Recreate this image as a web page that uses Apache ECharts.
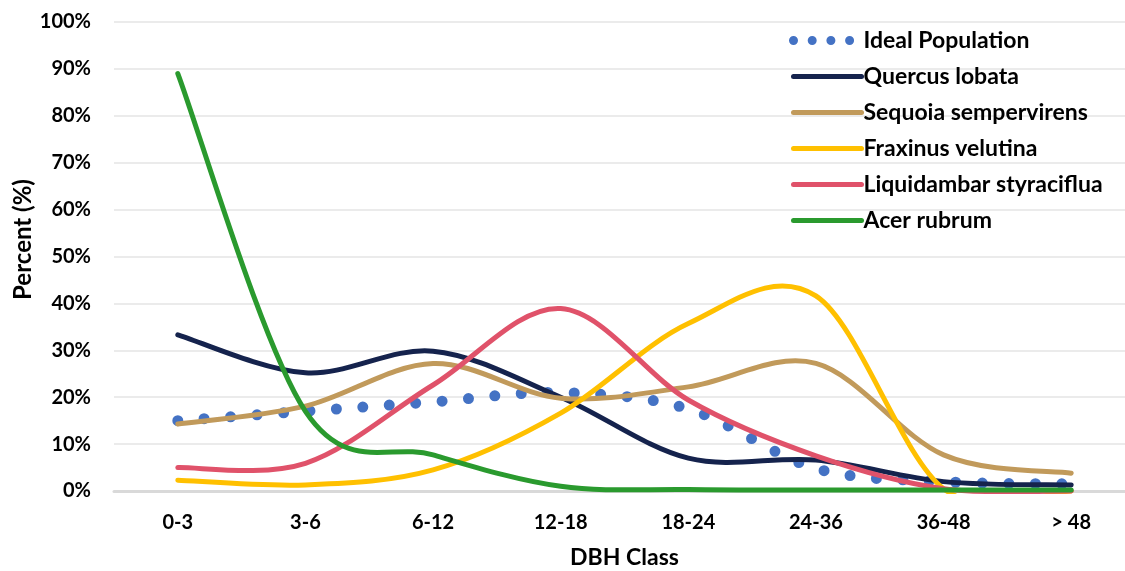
<!DOCTYPE html>
<html>
<head>
<meta charset="utf-8">
<script src="https://cdn.jsdelivr.net/npm/echarts@6/dist/echarts.min.js"></script>
<style>
  html, body { margin: 0; padding: 0; background: #ffffff; }
  #chart { width: 1125px; height: 571px; }
</style>
</head>
<body>
<div id="chart"></div>
<script>
// DBH size classes (inches) and share of stems per class, in percent
const dbhClasses = ['0-3', '3-6', '6-12', '12-18', '18-24', '24-36', '36-48', '> 48'];
const idealPopulation = [15, 17, 19, 21, 17.5, 4.8, 2, 1.5];
const quercusLobata = [33.3, 25.2, 29.8, 20, 7, 6.6, 2, 1.3];
const sequoiaSempervirens = [14.3, 18.1, 27.2, 19.8, 22.2, 27.2, 7.7, 3.8];
const fraxinusVelutina = [2.3, 1.3, 4.5, 16.6, 35.7, 41.6, 0.5, 0];
const liquidambarStyraciflua = [5, 5.9, 22.6, 38.9, 19.4, 7.5, 0.5, 0];
const acerRubrum = [89, 17, 7.7, 1, 0.3, 0.2, 0.2, 0.2];

const FONT = 'Lato';

const speciesList = [
  { name: 'Ideal Population', values: idealPopulation, color: '#4472C4', width: 11, dash: [0, 26.5] },
  { name: 'Quercus lobata', values: quercusLobata, color: '#15234D', width: 5 },
  { name: 'Sequoia sempervirens', values: sequoiaSempervirens, color: '#C19A5B', width: 5 },
  { name: 'Fraxinus velutina', values: fraxinusVelutina, color: '#FFC000', width: 5 },
  { name: 'Liquidambar styraciflua', values: liquidambarStyraciflua, color: '#E0526A', width: 5 },
  { name: 'Acer rubrum', values: acerRubrum, color: '#2A9A2E', width: 5 }
];

// Smoothed curve through pixel points (uniform Catmull-Rom as cubic Beziers)
function smoothPath(pts) {
  let d = 'M' + pts[0][0] + ' ' + pts[0][1];
  for (let k = 0; k < pts.length - 1; k++) {
    const p0 = pts[k - 1] || pts[k];
    const p1 = pts[k];
    const p2 = pts[k + 1];
    const p3 = pts[k + 2] || pts[k + 1];
    const c1x = p1[0] + (p2[0] - p0[0]) / 6;
    const c1y = p1[1] + (p2[1] - p0[1]) / 6;
    const c2x = p2[0] - (p3[0] - p1[0]) / 6;
    const c2y = p2[1] - (p3[1] - p1[1]) / 6;
    d += ' C' + c1x + ' ' + c1y + ' ' + c2x + ' ' + c2y + ' ' + p2[0] + ' ' + p2[1];
  }
  return d;
}

// Legend entries: empty line series that carry the name and colour
const legendCarriers = speciesList.map(function (s) {
  return {
    name: s.name,
    type: 'line',
    data: [],
    symbol: 'none',
    lineStyle: { color: s.color, width: s.width },
    itemStyle: { color: s.color },
    animation: false
  };
});

// Curves drawn on the cartesian grid via the axis scales
const curveSeries = speciesList.map(function (s) {
  return {
    name: s.name,
    type: 'custom',
    data: s.values.map(function (v, i) { return [i, v]; }),
    encode: { x: 0, y: 1 },
    silent: true,
    animation: false,
    renderItem: function (params, api) {
      if (params.dataIndex !== 0) return null;
      const pts = s.values.map(function (v, i) { return api.coord([i, v]); });
      const cs = params.coordSys;
      return {
        type: 'group',
        clipPath: { type: 'rect', shape: { x: cs.x - 10, y: cs.y - 10, width: cs.width + 20, height: cs.height + 13 } },
        children: [{
          type: 'path',
          shape: { pathData: smoothPath(pts) },
          style: {
            fill: null,
            stroke: s.color,
            lineWidth: s.width,
            lineCap: 'round',
            lineJoin: 'round',
            lineDash: s.dash || null
          }
        }]
      };
    }
  };
});

const chart = echarts.init(document.getElementById('chart'), null, { renderer: 'canvas' });
chart.setOption({
  animation: false,
  backgroundColor: '#ffffff',
  grid: { left: 114, right: -10, top: 22, bottom: 80, containLabel: false, outerBoundsMode: 'none' },
  legend: {
    orient: 'vertical',
    left: 784,
    top: 24,
    padding: 5,
    itemWidth: 68,
    itemHeight: 20,
    itemGap: 13,
    itemStyle: { opacity: 0 },
    textStyle: { fontFamily: FONT, fontWeight: 'bold', fontSize: 23, color: '#000000', padding: [0, 0, 0, -3] },
    data: speciesList.map(function (s) {
      return {
        name: s.name,
        lineStyle: s.dash
          ? { width: 9, type: [0, 18.7], cap: 'round' }
          : { width: 5, cap: 'round' }
      };
    })
  },
  xAxis: {
    type: 'category',
    data: dbhClasses,
    boundaryGap: true,
    name: 'DBH Class',
    nameLocation: 'middle',
    nameGap: 55,
    nameMoveOverlap: false,
    nameTextStyle: { fontFamily: FONT, fontWeight: 'bold', fontSize: 23, color: '#000000' },
    axisLine: { lineStyle: { color: '#D9D9D9', width: 3 } },
    axisTick: { show: false },
    axisLabel: { fontFamily: FONT, fontWeight: 'bold', fontSize: 20, color: '#000000', margin: 22 },
    splitLine: { show: false }
  },
  yAxis: {
    type: 'value',
    min: 0,
    max: 100,
    interval: 10,
    name: 'Percent (%)',
    nameLocation: 'middle',
    nameGap: 79,
    nameMoveOverlap: false,
    nameTextStyle: { fontFamily: FONT, fontWeight: 'bold', fontSize: 24, color: '#000000', padding: [0, 0, 0, 34] },
    axisLine: { show: false },
    axisTick: { show: false },
    axisLabel: {
      fontFamily: FONT, fontWeight: 'bold', fontSize: 20, color: '#000000', margin: 23,
      formatter: function (v) { return v + '%'; }
    },
    splitLine: { lineStyle: { color: '#EBEBEB', width: 2 } }
  },
  series: legendCarriers.concat(curveSeries)
});
</script>
</body>
</html>
